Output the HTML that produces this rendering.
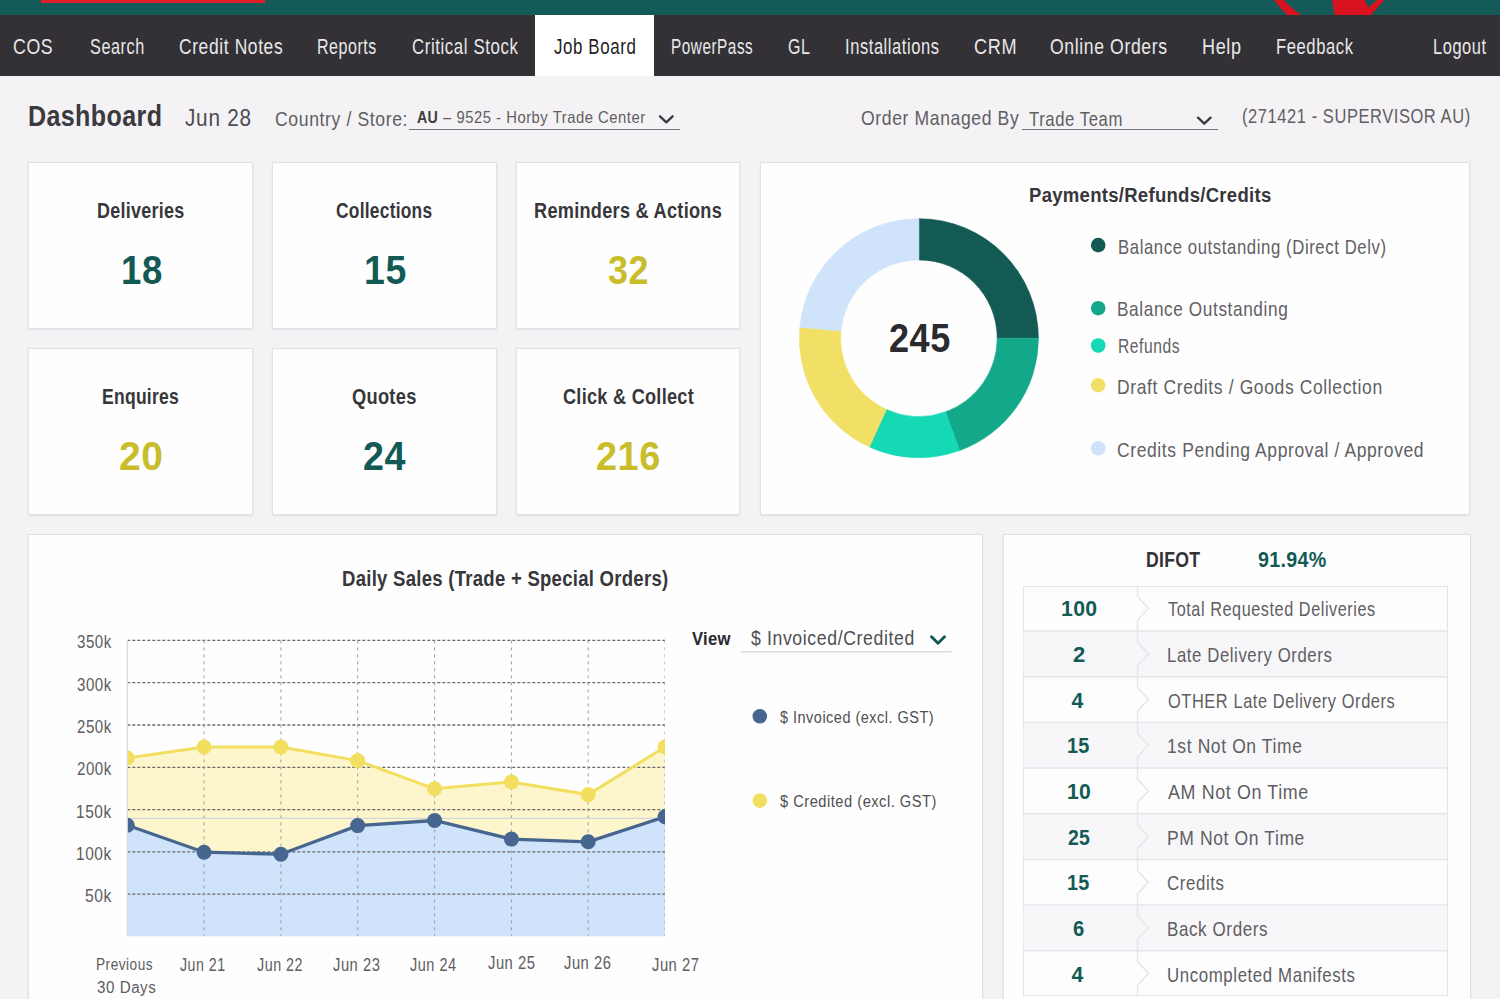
<!DOCTYPE html>
<html><head><meta charset="utf-8">
<style>
html,body{margin:0;padding:0;}
body{width:1500px;height:999px;overflow:hidden;position:relative;background:#f4f2f5;font-family:"Liberation Sans",sans-serif;}
.t{position:absolute;white-space:nowrap;line-height:1;transform-origin:0 0;z-index:5;}
.card{position:absolute;background:#fefefe;border:1px solid #e1e0e4;box-shadow:0 1px 2px rgba(0,0,0,.07);box-sizing:border-box;}
.abs{position:absolute;}
</style></head><body>
<!-- top bar -->
<div class="abs" style="left:0;top:0;width:1500px;height:15px;background:#145a58"></div>
<div class="abs" style="left:41px;top:0;width:224px;height:2.5px;background:#e01d2b"></div>
<svg class="abs" style="left:0;top:0" width="1500" height="15">
  <path d="M1274 0 L1283.5 0 Q1291 8 1301 15 L1287 15 Q1280 8 1274 0Z" fill="#d8121f"/>
  <path d="M1332 0 L1364.6 0 L1368.3 7.5 L1376.7 0 L1384.2 0 L1371 15 L1334.7 15Z" fill="#d8121f"/>
</svg>
<!-- nav -->
<div class="abs" style="left:0;top:15px;width:1500px;height:61px;background:#333136"></div>
<div class="abs" style="left:535px;top:15px;width:119px;height:61px;background:#ffffff"></div>
<!-- header controls -->
<div class="abs" style="left:409px;top:128.5px;width:271px;height:1.6px;background:#77767b"></div>
<div class="abs" style="left:1022px;top:128.5px;width:196px;height:1.6px;background:#77767b"></div>
<svg class="abs" style="left:0;top:0;z-index:6" width="1500" height="140">
  <path d="M660 116.3 L666.3 122.3 L672.6 116.3" fill="none" stroke="#3a393d" stroke-width="2.3" stroke-linecap="round" stroke-linejoin="round"/>
  <path d="M1198 117.6 L1204.3 123.6 L1210.6 117.6" fill="none" stroke="#3a393d" stroke-width="2.3" stroke-linecap="round" stroke-linejoin="round"/>
</svg>
<!-- small cards -->
<div class="card" style="left:28px;top:162px;width:225px;height:167px"></div>
<div class="card" style="left:272px;top:162px;width:225px;height:167px"></div>
<div class="card" style="left:516px;top:162px;width:224px;height:167px"></div>
<div class="card" style="left:28px;top:348px;width:225px;height:167px"></div>
<div class="card" style="left:272px;top:348px;width:225px;height:167px"></div>
<div class="card" style="left:516px;top:348px;width:224px;height:167px"></div>
<!-- payments card -->
<div class="card" style="left:760px;top:162px;width:710px;height:353px"></div>
<svg class="abs" style="left:0;top:0;z-index:2" width="1500" height="520"><path d="M918.90 218.70 A119.5 119.5 0 0 1 1038.40 338.20 L997.20 338.20 A78.3 78.3 0 0 0 918.90 259.90Z" fill="#135a55" stroke="#135a55" stroke-width="0.6"/><path d="M1038.40 338.20 A119.5 119.5 0 0 1 959.58 450.56 L945.55 411.82 A78.3 78.3 0 0 0 997.20 338.20Z" fill="#13a88a" stroke="#13a88a" stroke-width="0.6"/><path d="M959.58 450.56 A119.5 119.5 0 0 1 869.34 446.94 L886.43 409.45 A78.3 78.3 0 0 0 945.55 411.82Z" fill="#15d8b4" stroke="#15d8b4" stroke-width="0.6"/><path d="M869.34 446.94 A119.5 119.5 0 0 1 799.91 327.16 L840.93 330.97 A78.3 78.3 0 0 0 886.43 409.45Z" fill="#f1df66" stroke="#f1df66" stroke-width="0.6"/><path d="M799.91 327.16 A119.5 119.5 0 0 1 918.90 218.70 L918.90 259.90 A78.3 78.3 0 0 0 840.93 330.97Z" fill="#cfe3fb" stroke="#cfe3fb" stroke-width="0.6"/><circle cx="1098.2" cy="245.1" r="7.3" fill="#135a55"/><circle cx="1098.2" cy="308.2" r="7.3" fill="#13a88a"/><circle cx="1098.2" cy="345.5" r="7.3" fill="#15d8b4"/><circle cx="1098.2" cy="385.2" r="7.3" fill="#f1df66"/><circle cx="1098.2" cy="448.3" r="7.3" fill="#cfe3fb"/></svg>
<!-- daily sales card -->
<div class="card" style="left:28px;top:534px;width:955px;height:480px"></div>
<svg class="abs" style="left:0;top:0;z-index:2" width="1000" height="999"><defs><clipPath id="pc"><rect x="127.3" y="630.4" width="537.7" height="306.1"/></clipPath></defs><g clip-path="url(#pc)"><polygon points="127.3,936.5 127.3,758.0 204.1,747.0 280.9,747.0 357.7,760.6 434.6,788.8 511.4,781.9 588.2,794.6 665.0,747.0 665.0,936.5" fill="#fdf6cd"/><polygon points="127.3,936.5 127.3,825.2 204.1,852.2 280.9,854.2 357.7,825.6 434.6,820.5 511.4,839.1 588.2,841.8 665.0,816.7 665.0,936.5" fill="#cfe3fb"/><line x1="127.3" y1="640.4" x2="665.0" y2="640.4" stroke="#6a696d" stroke-width="1.3" stroke-dasharray="3 2"/><line x1="127.3" y1="682.7" x2="665.0" y2="682.7" stroke="#6a696d" stroke-width="1.3" stroke-dasharray="3 2"/><line x1="127.3" y1="725.0" x2="665.0" y2="725.0" stroke="#6a696d" stroke-width="1.3" stroke-dasharray="3 2"/><line x1="127.3" y1="767.3" x2="665.0" y2="767.3" stroke="#6a696d" stroke-width="1.3" stroke-dasharray="3 2"/><line x1="127.3" y1="809.6" x2="665.0" y2="809.6" stroke="#6a696d" stroke-width="1.3" stroke-dasharray="3 2"/><line x1="127.3" y1="851.9" x2="665.0" y2="851.9" stroke="#6a696d" stroke-width="1.3" stroke-dasharray="3 2"/><line x1="127.3" y1="894.2" x2="665.0" y2="894.2" stroke="#6a696d" stroke-width="1.3" stroke-dasharray="3 2"/><line x1="204.1" y1="640.4" x2="204.1" y2="936.5" stroke="#9c9b9f" stroke-width="1" stroke-dasharray="3 4"/><line x1="280.9" y1="640.4" x2="280.9" y2="936.5" stroke="#9c9b9f" stroke-width="1" stroke-dasharray="3 4"/><line x1="357.7" y1="640.4" x2="357.7" y2="936.5" stroke="#9c9b9f" stroke-width="1" stroke-dasharray="3 4"/><line x1="434.6" y1="640.4" x2="434.6" y2="936.5" stroke="#9c9b9f" stroke-width="1" stroke-dasharray="3 4"/><line x1="511.4" y1="640.4" x2="511.4" y2="936.5" stroke="#9c9b9f" stroke-width="1" stroke-dasharray="3 4"/><line x1="588.2" y1="640.4" x2="588.2" y2="936.5" stroke="#9c9b9f" stroke-width="1" stroke-dasharray="3 4"/><line x1="665.0" y1="640.4" x2="665.0" y2="936.5" stroke="#9c9b9f" stroke-width="1" stroke-dasharray="3 4"/><line x1="127.3" y1="818.3" x2="665.0" y2="818.3" stroke="#c5cfe0" stroke-width="1"/><polyline points="127.3,758.0 204.1,747.0 280.9,747.0 357.7,760.6 434.6,788.8 511.4,781.9 588.2,794.6 665.0,747.0" fill="none" stroke="#f2df5f" stroke-width="3"/><polyline points="127.3,825.2 204.1,852.2 280.9,854.2 357.7,825.6 434.6,820.5 511.4,839.1 588.2,841.8 665.0,816.7" fill="none" stroke="#46658f" stroke-width="3.3"/><circle cx="127.3" cy="758.0" r="7.5" fill="#f2df5f"/><circle cx="204.1" cy="747.0" r="7.5" fill="#f2df5f"/><circle cx="280.9" cy="747.0" r="7.5" fill="#f2df5f"/><circle cx="357.7" cy="760.6" r="7.5" fill="#f2df5f"/><circle cx="434.6" cy="788.8" r="7.5" fill="#f2df5f"/><circle cx="511.4" cy="781.9" r="7.5" fill="#f2df5f"/><circle cx="588.2" cy="794.6" r="7.5" fill="#f2df5f"/><circle cx="665.0" cy="747.0" r="7.5" fill="#f2df5f"/><circle cx="127.3" cy="825.2" r="7.5" fill="#46658f"/><circle cx="204.1" cy="852.2" r="7.5" fill="#46658f"/><circle cx="280.9" cy="854.2" r="7.5" fill="#46658f"/><circle cx="357.7" cy="825.6" r="7.5" fill="#46658f"/><circle cx="434.6" cy="820.5" r="7.5" fill="#46658f"/><circle cx="511.4" cy="839.1" r="7.5" fill="#46658f"/><circle cx="588.2" cy="841.8" r="7.5" fill="#46658f"/><circle cx="665.0" cy="816.7" r="7.5" fill="#46658f"/></g><line x1="127.3" y1="640.4" x2="127.3" y2="936.5" stroke="#d9d8dc" stroke-width="1.2"/><line x1="740.7" y1="651.8" x2="951.6" y2="651.8" stroke="#dcdbe0" stroke-width="1.5"/><path d="M931.5 636.8 L938 643.2 L944.5 636.8" fill="none" stroke="#135a55" stroke-width="3" stroke-linecap="round" stroke-linejoin="round"/><circle cx="759.8" cy="716.3" r="7.3" fill="#46658f"/><circle cx="759.8" cy="800.6" r="7.3" fill="#f2df5f"/></svg>
<!-- difot card -->
<div class="card" style="left:1003px;top:534px;width:468px;height:480px"></div>
<div class="abs" style="left:1022.6px;top:585.5px;width:425.4px;height:410.8px;border:1px solid #e3e2e6;box-sizing:border-box;background:#fdfdfe;z-index:2"></div><svg class="abs" style="left:0;top:0;z-index:3" width="1500" height="999"><rect x="1023.6" y="631.1" width="423.4" height="45.6" fill="#f7f6f9"/><rect x="1023.6" y="722.5" width="423.4" height="45.6" fill="#f7f6f9"/><rect x="1023.6" y="813.8" width="423.4" height="45.6" fill="#f7f6f9"/><rect x="1023.6" y="905.0" width="423.4" height="45.6" fill="#f7f6f9"/><line x1="1022.6" y1="631.1" x2="1448.0" y2="631.1" stroke="#e6e5e9" stroke-width="1.5"/><line x1="1022.6" y1="676.8" x2="1448.0" y2="676.8" stroke="#e6e5e9" stroke-width="1.5"/><line x1="1022.6" y1="722.5" x2="1448.0" y2="722.5" stroke="#e6e5e9" stroke-width="1.5"/><line x1="1022.6" y1="768.1" x2="1448.0" y2="768.1" stroke="#e6e5e9" stroke-width="1.5"/><line x1="1022.6" y1="813.8" x2="1448.0" y2="813.8" stroke="#e6e5e9" stroke-width="1.5"/><line x1="1022.6" y1="859.4" x2="1448.0" y2="859.4" stroke="#e6e5e9" stroke-width="1.5"/><line x1="1022.6" y1="905.0" x2="1448.0" y2="905.0" stroke="#e6e5e9" stroke-width="1.5"/><line x1="1022.6" y1="950.7" x2="1448.0" y2="950.7" stroke="#e6e5e9" stroke-width="1.5"/><polyline points="1137.5,585.5 1137.5,596.5 1148.5,608.3 1137.5,620.0 1137.5,631.1 1137.5,642.1 1148.5,653.9 1137.5,665.6 1137.5,676.8 1137.5,687.8 1148.5,699.6 1137.5,711.3 1137.5,722.5 1137.5,733.5 1148.5,745.2 1137.5,757.0 1137.5,768.1 1137.5,779.1 1148.5,790.9 1137.5,802.6 1137.5,813.8 1137.5,824.8 1148.5,836.5 1137.5,848.2 1137.5,859.4 1137.5,870.4 1148.5,882.2 1137.5,893.9 1137.5,905.0 1137.5,916.0 1148.5,927.8 1137.5,939.5 1137.5,950.7 1137.5,961.7 1148.5,973.5 1137.5,985.2 1137.5,996.3" fill="none" stroke="#e6e5e9" stroke-width="1.4"/></svg>
<div class="t" style="left:13.2px;top:37px;font-size:21.26px;font-weight:normal;letter-spacing:0.74px;color:#e8e8e8;transform:scaleX(0.835)">COS</div>
<div class="t" style="left:89.8px;top:37px;font-size:21.26px;font-weight:normal;letter-spacing:0.74px;color:#e8e8e8;transform:scaleX(0.765)">Search</div>
<div class="t" style="left:178.6px;top:37px;font-size:21.26px;font-weight:normal;letter-spacing:0.74px;color:#e8e8e8;transform:scaleX(0.821)">Credit Notes</div>
<div class="t" style="left:317.2px;top:37px;font-size:21.26px;font-weight:normal;letter-spacing:0.74px;color:#e8e8e8;transform:scaleX(0.753)">Reports</div>
<div class="t" style="left:412.1px;top:37px;font-size:21.26px;font-weight:normal;letter-spacing:0.74px;color:#e8e8e8;transform:scaleX(0.792)">Critical Stock</div>
<div class="t" style="left:554.0px;top:37px;font-size:21.26px;font-weight:normal;letter-spacing:0.74px;color:#1f1f1f;transform:scaleX(0.796)">Job Board</div>
<div class="t" style="left:670.9px;top:37px;font-size:21.26px;font-weight:normal;letter-spacing:0.74px;color:#e8e8e8;transform:scaleX(0.721)">PowerPass</div>
<div class="t" style="left:788.2px;top:37px;font-size:21.26px;font-weight:normal;letter-spacing:0.74px;color:#e8e8e8;transform:scaleX(0.753)">GL</div>
<div class="t" style="left:845.4px;top:37px;font-size:21.26px;font-weight:normal;letter-spacing:0.74px;color:#e8e8e8;transform:scaleX(0.776)">Installations</div>
<div class="t" style="left:974.1px;top:37px;font-size:21.26px;font-weight:normal;letter-spacing:0.74px;color:#e8e8e8;transform:scaleX(0.852)">CRM</div>
<div class="t" style="left:1049.5px;top:37px;font-size:21.26px;font-weight:normal;letter-spacing:0.74px;color:#e8e8e8;transform:scaleX(0.829)">Online Orders</div>
<div class="t" style="left:1201.5px;top:37px;font-size:21.26px;font-weight:normal;letter-spacing:0.74px;color:#e8e8e8;transform:scaleX(0.850)">Help</div>
<div class="t" style="left:1275.8px;top:37px;font-size:21.26px;font-weight:normal;letter-spacing:0.74px;color:#e8e8e8;transform:scaleX(0.781)">Feedback</div>
<div class="t" style="left:1432.9px;top:37px;font-size:21.26px;font-weight:normal;letter-spacing:0.74px;color:#e8e8e8;transform:scaleX(0.773)">Logout</div>
<div class="t" style="left:28.0px;top:102px;font-size:28.72px;font-weight:bold;letter-spacing:0.43px;color:#3b3a3e;transform:scaleX(0.873)">Dashboard</div>
<div class="t" style="left:184.7px;top:106px;font-size:24.74px;font-weight:normal;letter-spacing:0.87px;color:#4d4c50;transform:scaleX(0.839)">Jun 28</div>
<div class="t" style="left:275.1px;top:108px;font-size:20.99px;font-weight:normal;letter-spacing:0.73px;color:#5f5e62;transform:scaleX(0.839)">Country / Store:</div>
<div class="t" style="left:416.5px;top:109px;font-size:17.12px;font-weight:bold;letter-spacing:0.26px;color:#3f3e42;transform:scaleX(0.833)">AU</div>
<div class="t" style="left:443.0px;top:109px;font-size:17.12px;font-weight:normal;letter-spacing:0.60px;color:#5f5e62;transform:scaleX(0.866)">– 9525 - Horby Trade Center</div>
<div class="t" style="left:860.6px;top:109px;font-size:19.61px;font-weight:normal;letter-spacing:0.69px;color:#5f5e62;transform:scaleX(0.896)">Order Managed By</div>
<div class="t" style="left:1028.6px;top:109px;font-size:20.02px;font-weight:normal;letter-spacing:0.70px;color:#5f5e62;transform:scaleX(0.833)">Trade Team</div>
<div class="t" style="left:1241.6px;top:106px;font-size:20.71px;font-weight:normal;letter-spacing:0.72px;color:#5f5e62;transform:scaleX(0.796)">(271421 - SUPERVISOR AU)</div>
<div class="t" style="left:96.6px;top:201px;font-size:21.54px;font-weight:bold;letter-spacing:0.32px;color:#37363a;transform:scaleX(0.833)">Deliveries</div>
<div class="t" style="left:335.9px;top:201px;font-size:21.54px;font-weight:bold;letter-spacing:0.32px;color:#37363a;transform:scaleX(0.806)">Collections</div>
<div class="t" style="left:533.6px;top:201px;font-size:21.54px;font-weight:bold;letter-spacing:0.32px;color:#37363a;transform:scaleX(0.843)">Reminders &amp; Actions</div>
<div class="t" style="left:101.5px;top:387px;font-size:21.54px;font-weight:bold;letter-spacing:0.32px;color:#37363a;transform:scaleX(0.814)">Enquires</div>
<div class="t" style="left:352.0px;top:387px;font-size:21.54px;font-weight:bold;letter-spacing:0.32px;color:#37363a;transform:scaleX(0.849)">Quotes</div>
<div class="t" style="left:563.4px;top:387px;font-size:21.54px;font-weight:bold;letter-spacing:0.32px;color:#37363a;transform:scaleX(0.842)">Click &amp; Collect</div>
<div class="t" style="left:121.2px;top:250px;font-size:41.28px;font-weight:bold;letter-spacing:0.62px;color:#135a55;transform:scaleX(0.886)">18</div>
<div class="t" style="left:364.0px;top:250px;font-size:41.28px;font-weight:bold;letter-spacing:0.62px;color:#135a55;transform:scaleX(0.907)">15</div>
<div class="t" style="left:608.0px;top:250px;font-size:41.28px;font-weight:bold;letter-spacing:0.62px;color:#c9bd2b;transform:scaleX(0.869)">32</div>
<div class="t" style="left:119.1px;top:436px;font-size:41.28px;font-weight:bold;letter-spacing:0.62px;color:#c9bd2b;transform:scaleX(0.945)">20</div>
<div class="t" style="left:362.8px;top:436px;font-size:41.28px;font-weight:bold;letter-spacing:0.62px;color:#135a55;transform:scaleX(0.913)">24</div>
<div class="t" style="left:596.1px;top:436px;font-size:41.28px;font-weight:bold;letter-spacing:0.62px;color:#c9bd2b;transform:scaleX(0.916)">216</div>
<div class="t" style="left:1029.2px;top:185px;font-size:20.3px;font-weight:bold;letter-spacing:0.30px;color:#37363a;transform:scaleX(0.914)">Payments/Refunds/Credits</div>
<div class="t" style="left:889.3px;top:318px;font-size:40.55px;font-weight:bold;letter-spacing:0.61px;color:#2b2a2e;transform:scaleX(0.890)">245</div>
<div class="t" style="left:1117.5px;top:237px;font-size:20.16px;font-weight:normal;letter-spacing:0.71px;color:#616064;transform:scaleX(0.830)">Balance outstanding (Direct Delv)</div>
<div class="t" style="left:1117.4px;top:299px;font-size:20.16px;font-weight:normal;letter-spacing:0.71px;color:#616064;transform:scaleX(0.854)">Balance Outstanding</div>
<div class="t" style="left:1117.5px;top:336px;font-size:20.16px;font-weight:normal;letter-spacing:0.71px;color:#616064;transform:scaleX(0.776)">Refunds</div>
<div class="t" style="left:1117.1px;top:377px;font-size:20.16px;font-weight:normal;letter-spacing:0.71px;color:#616064;transform:scaleX(0.868)">Draft Credits / Goods Collection</div>
<div class="t" style="left:1117.1px;top:440px;font-size:20.16px;font-weight:normal;letter-spacing:0.71px;color:#616064;transform:scaleX(0.867)">Credits Pending Approval / Approved</div>
<div class="t" style="left:342.3px;top:569px;font-size:21.54px;font-weight:bold;letter-spacing:0.32px;color:#37363a;transform:scaleX(0.860)">Daily Sales (Trade + Special Orders)</div>
<div class="t" style="left:77.0px;top:633px;font-size:18.36px;font-weight:normal;letter-spacing:0.64px;color:#5d5c60;transform:scaleX(0.822)">350k</div>
<div class="t" style="left:77.0px;top:676px;font-size:18.36px;font-weight:normal;letter-spacing:0.64px;color:#5d5c60;transform:scaleX(0.822)">300k</div>
<div class="t" style="left:77.0px;top:718px;font-size:18.36px;font-weight:normal;letter-spacing:0.64px;color:#5d5c60;transform:scaleX(0.822)">250k</div>
<div class="t" style="left:77.0px;top:760px;font-size:18.36px;font-weight:normal;letter-spacing:0.64px;color:#5d5c60;transform:scaleX(0.822)">200k</div>
<div class="t" style="left:76.2px;top:803px;font-size:18.36px;font-weight:normal;letter-spacing:0.64px;color:#5d5c60;transform:scaleX(0.842)">150k</div>
<div class="t" style="left:76.2px;top:845px;font-size:18.36px;font-weight:normal;letter-spacing:0.64px;color:#5d5c60;transform:scaleX(0.842)">100k</div>
<div class="t" style="left:85.0px;top:887px;font-size:18.36px;font-weight:normal;letter-spacing:0.64px;color:#5d5c60;transform:scaleX(0.852)">50k</div>
<div class="t" style="left:95.8px;top:957px;font-size:16.85px;font-weight:normal;letter-spacing:0.59px;color:#5d5c60;transform:scaleX(0.812)">Previous</div>
<div class="t" style="left:96.6px;top:980px;font-size:16.85px;font-weight:normal;letter-spacing:0.59px;color:#5d5c60;transform:scaleX(0.900)">30 Days</div>
<div class="t" style="left:180.0px;top:956px;font-size:18.23px;font-weight:normal;letter-spacing:0.64px;color:#5d5c60;transform:scaleX(0.779)">Jun 21</div>
<div class="t" style="left:257.0px;top:956px;font-size:18.23px;font-weight:normal;letter-spacing:0.64px;color:#5d5c60;transform:scaleX(0.786)">Jun 22</div>
<div class="t" style="left:333.3px;top:956px;font-size:18.23px;font-weight:normal;letter-spacing:0.64px;color:#5d5c60;transform:scaleX(0.809)">Jun 23</div>
<div class="t" style="left:410.1px;top:956px;font-size:18.23px;font-weight:normal;letter-spacing:0.64px;color:#5d5c60;transform:scaleX(0.795)">Jun 24</div>
<div class="t" style="left:488.0px;top:954px;font-size:18.23px;font-weight:normal;letter-spacing:0.64px;color:#5d5c60;transform:scaleX(0.809)">Jun 25</div>
<div class="t" style="left:564.0px;top:954px;font-size:18.23px;font-weight:normal;letter-spacing:0.64px;color:#5d5c60;transform:scaleX(0.809)">Jun 26</div>
<div class="t" style="left:652.0px;top:956px;font-size:18.23px;font-weight:normal;letter-spacing:0.64px;color:#5d5c60;transform:scaleX(0.809)">Jun 27</div>
<div class="t" style="left:691.6px;top:631px;font-size:17.54px;font-weight:bold;letter-spacing:0.26px;color:#2a292d;transform:scaleX(0.951)">View</div>
<div class="t" style="left:750.9px;top:629px;font-size:19.75px;font-weight:normal;letter-spacing:0.69px;color:#4f4e52;transform:scaleX(0.894)">$ Invoiced/Credited</div>
<div class="t" style="left:779.9px;top:709px;font-size:17.26px;font-weight:normal;letter-spacing:0.60px;color:#4f4e52;transform:scaleX(0.838)">$ Invoiced (excl. GST)</div>
<div class="t" style="left:780.0px;top:793px;font-size:17.26px;font-weight:normal;letter-spacing:0.60px;color:#4f4e52;transform:scaleX(0.849)">$ Credited (excl. GST)</div>
<div class="t" style="left:1145.7px;top:550px;font-size:21.54px;font-weight:bold;letter-spacing:0.32px;color:#333236;transform:scaleX(0.820)">DIFOT</div>
<div class="t" style="left:1258.4px;top:550px;font-size:21.54px;font-weight:bold;letter-spacing:0.32px;color:#135a55;transform:scaleX(0.914)">91.94%</div>
<div class="t" style="left:1060.7px;top:599px;font-size:21.26px;font-weight:bold;letter-spacing:0.32px;color:#135a55;transform:scaleX(1.001)">100</div>
<div class="t" style="left:1167.5px;top:599px;font-size:20.3px;font-weight:normal;letter-spacing:0.71px;color:#5f5e62;transform:scaleX(0.800)">Total Requested Deliveries</div>
<div class="t" style="left:1073.0px;top:645px;font-size:21.26px;font-weight:bold;letter-spacing:0.32px;color:#135a55;transform:scaleX(1.036)">2</div>
<div class="t" style="left:1166.7px;top:645px;font-size:20.3px;font-weight:normal;letter-spacing:0.71px;color:#5f5e62;transform:scaleX(0.826)">Late Delivery Orders</div>
<div class="t" style="left:1071.5px;top:691px;font-size:21.26px;font-weight:bold;letter-spacing:0.32px;color:#135a55;transform:scaleX(1.000)">4</div>
<div class="t" style="left:1167.5px;top:691px;font-size:20.3px;font-weight:normal;letter-spacing:0.71px;color:#5f5e62;transform:scaleX(0.809)">OTHER Late Delivery Orders</div>
<div class="t" style="left:1067.2px;top:736px;font-size:21.26px;font-weight:bold;letter-spacing:0.32px;color:#135a55;transform:scaleX(0.934)">15</div>
<div class="t" style="left:1166.6px;top:736px;font-size:20.3px;font-weight:normal;letter-spacing:0.71px;color:#5f5e62;transform:scaleX(0.862)">1st Not On Time</div>
<div class="t" style="left:1067.0px;top:782px;font-size:21.26px;font-weight:bold;letter-spacing:0.32px;color:#135a55;transform:scaleX(0.994)">10</div>
<div class="t" style="left:1167.5px;top:782px;font-size:20.3px;font-weight:normal;letter-spacing:0.71px;color:#5f5e62;transform:scaleX(0.881)">AM Not On Time</div>
<div class="t" style="left:1068.0px;top:828px;font-size:21.26px;font-weight:bold;letter-spacing:0.32px;color:#135a55;transform:scaleX(0.911)">25</div>
<div class="t" style="left:1166.6px;top:828px;font-size:20.3px;font-weight:normal;letter-spacing:0.71px;color:#5f5e62;transform:scaleX(0.863)">PM Not On Time</div>
<div class="t" style="left:1067.2px;top:873px;font-size:21.26px;font-weight:bold;letter-spacing:0.32px;color:#135a55;transform:scaleX(0.934)">15</div>
<div class="t" style="left:1166.7px;top:873px;font-size:20.3px;font-weight:normal;letter-spacing:0.71px;color:#5f5e62;transform:scaleX(0.831)">Credits</div>
<div class="t" style="left:1073.0px;top:919px;font-size:21.26px;font-weight:bold;letter-spacing:0.32px;color:#135a55;transform:scaleX(0.950)">6</div>
<div class="t" style="left:1166.7px;top:919px;font-size:20.3px;font-weight:normal;letter-spacing:0.71px;color:#5f5e62;transform:scaleX(0.839)">Back Orders</div>
<div class="t" style="left:1071.5px;top:965px;font-size:21.26px;font-weight:bold;letter-spacing:0.32px;color:#135a55;transform:scaleX(1.000)">4</div>
<div class="t" style="left:1166.7px;top:965px;font-size:20.3px;font-weight:normal;letter-spacing:0.71px;color:#5f5e62;transform:scaleX(0.831)">Uncompleted Manifests</div>
</body></html>
